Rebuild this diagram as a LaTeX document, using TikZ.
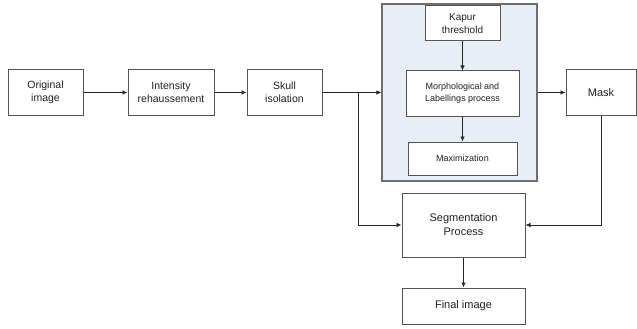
\documentclass[tikz,border=0pt]{standalone}
\usepackage{fontspec}
\setmainfont{Liberation Sans}
\usetikzlibrary{arrows.meta}
\definecolor{contfill}{HTML}{E8EEF8}
\definecolor{boxline}{HTML}{555555}
\definecolor{txt}{HTML}{222222}
\begin{document}
\begin{tikzpicture}[x=1pt,y=-1pt,
  box/.style={draw=boxline,line width=1pt,fill=white,inner sep=0pt,align=center,
    text=txt,font=\fontsize{10.5}{13}\selectfont},
  inbox/.style={box,font=\fontsize{9}{12}\selectfont},
  bigbox/.style={box,font=\fontsize{11}{14}\selectfont},
  conn/.style={draw=black!85,line width=0.75pt,-{Latex[length=5pt,width=4.5pt]}}]
\useasboundingbox (0,0) rectangle (637,329);
% container
\node[draw=boxline!85,line width=1.2pt,fill=contfill,inner sep=0pt,
  minimum width=155pt,minimum height=177pt] (cont) at (459.5,92.5) {};
% main chain
\node[box,minimum width=75pt,minimum height=45pt] (orig) at (45.5,92.5) {Original\\image};
\node[box,minimum width=86pt,minimum height=45pt] (inten) at (171,92.5) {Intensity\\rehaussement};
\node[box,minimum width=75pt,minimum height=45pt] (skull) at (284.5,92.5) {Skull\\isolation};
% inner boxes
\node[inbox,font=\fontsize{10}{12.5}\selectfont,minimum width=75pt,minimum height=35pt] (kapur) at (462.5,23.5) {Kapur\\threshold};
\node[inbox,minimum width=113pt,minimum height=45pt] (morph) at (462.5,93.5) {Morphological and\\Labellings process};
\node[inbox,minimum width=109pt,minimum height=33pt] (maxi) at (462.5,158.5) {Maximization};
% right side
\node[bigbox,minimum width=70pt,minimum height=45pt] (mask) at (601,92.5) {Mask};
\node[bigbox,minimum width=123pt,minimum height=64pt] (seg) at (463.5,225) {Segmentation\\Process};
\node[bigbox,minimum width=123pt,minimum height=36pt] (final) at (463.5,306) {Final image};
\coordinate (br) at (358,92.5);
% connectors
\draw[conn] (orig) -- (inten);
\draw[conn] (inten) -- (skull);
\draw[conn] (skull) -- (cont);
\draw[conn] (br) |- (seg.west);
\draw[conn] (kapur) -- (morph);
\draw[conn] (morph) -- (maxi);
\draw[conn] (cont) -- (mask);
\draw[conn] (mask.south) |- (seg.east);
\draw[conn] (seg) -- (final);
\end{tikzpicture}
\end{document}
